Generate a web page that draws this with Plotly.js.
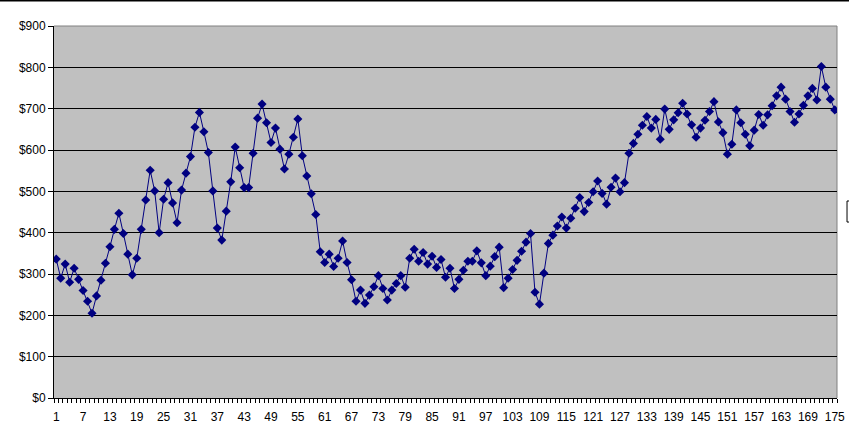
<!DOCTYPE html>
<html>
<head>
<meta charset="utf-8">
<script src="https://cdn.plot.ly/plotly-3.0.1.min.js"></script>
<style>
html,body{margin:0;padding:0;background:#fff;}
#chart{width:849px;height:434px;}
</style>
</head>
<body>
<div id="chart"></div>
<script>
var values = [
336,290,324,280,314,287,260,234,205,247,
285,326,366,408,447,398,348,298,338,408,
479,551,501,400,481,521,472,424,503,544,
584,655,691,644,594,501,411,382,452,523,
607,557,509,509,592,677,711,666,618,653,
602,554,590,631,675,586,537,494,444,354,
328,348,318,338,380,328,286,234,261,229,
249,269,296,265,237,261,277,296,268,338,
360,331,352,324,343,316,335,292,314,265,
287,309,331,331,356,327,296,319,342,365,
267,290,311,333,355,377,398,256,227,302,
374,394,416,438,411,435,459,485,451,473,
499,525,495,469,510,532,499,521,592,616,
638,660,681,653,674,626,699,650,673,690,
713,687,661,631,653,672,693,717,668,642,
590,614,697,666,638,610,648,686,660,685,
707,731,752,723,693,667,687,708,731,749,
721,802,752,723,697
];
var periods = values.map(function(v, i){ return i + 1; });
var xTickLabels = [1,7,13,19,25,31,37,43,49,55,61,67,73,79,85,91,97,103,109,115,121,127,133,139,145,151,157,163,169,175];
var yTickValues = [0,100,200,300,400,500,600,700,800,900];

var boundaries = [];
for (var i = 0; i <= periods.length; i++) boundaries.push(i + 0.5);

var trace = {
  x: periods,
  y: values,
  type: 'scatter',
  mode: 'lines+markers',
  line: {color: '#000080', width: 1},
  marker: {symbol: 'diamond', size: 7, color: '#000080', line: {width: 0}},
  hoverinfo: 'x+y'
};

var layout = {
  width: 849,
  height: 434,
  margin: {l: 54, r: 12, t: 26, b: 36, pad: 0},
  paper_bgcolor: '#ffffff',
  plot_bgcolor: '#c0c0c0',
  showlegend: false,
  font: {family: 'Liberation Sans, Arial, sans-serif', size: 12, color: '#000000'},
  xaxis: {
    range: [0.5, periods.length + 0.5],
    tickmode: 'array',
    tickvals: xTickLabels,
    ticktext: xTickLabels.map(String),
    ticks: '',
    ticklabelstandoff: 8,
    showgrid: false,
    zeroline: false,
    showline: true,
    linecolor: '#000000',
    linewidth: 1,
    tickfont: {size: 12, color: '#000000'},
    minor: {
      tickmode: 'array',
      tickvals: boundaries,
      ticks: 'outside',
      ticklen: 4,
      tickcolor: '#000000',
      tickwidth: 1,
      showgrid: false
    },
    fixedrange: true
  },
  yaxis: {
    range: [0, 900],
    tickmode: 'array',
    tickvals: yTickValues,
    ticktext: yTickValues.map(function(v){ return '$' + v; }),
    ticks: 'outside',
    ticklen: 5,
    tickcolor: '#000000',
    showgrid: true,
    gridcolor: '#000000',
    gridwidth: 1,
    zeroline: false,
    showline: true,
    linecolor: '#000000',
    linewidth: 1,
    tickfont: {size: 12, color: '#000000'},
    fixedrange: true
  },
  shapes: [
    {type: 'line', xref: 'paper', yref: 'paper', x0: 0, x1: 1, y0: 1, y1: 1,
     line: {color: '#808080', width: 1}, layer: 'between'},
    {type: 'line', xref: 'paper', yref: 'paper', x0: 1, x1: 1, y0: 0, y1: 1,
     line: {color: '#808080', width: 1}, layer: 'between'},
    {type: 'line', xref: 'paper', yref: 'paper', x0: -0.07, x1: 1.02, y0: 1.0685, y1: 1.0685,
     line: {color: '#000000', width: 2}},
    {type: 'rect', xref: 'paper', yref: 'paper', x0: 1.0128, x1: 1.03, y0: 0.473, y1: 0.5296,
     line: {color: '#000000', width: 1}, fillcolor: 'rgba(0,0,0,0)'}
  ]
};

Plotly.newPlot('chart', [trace], layout, {displayModeBar: false, staticPlot: true});
</script>
</body>
</html>
